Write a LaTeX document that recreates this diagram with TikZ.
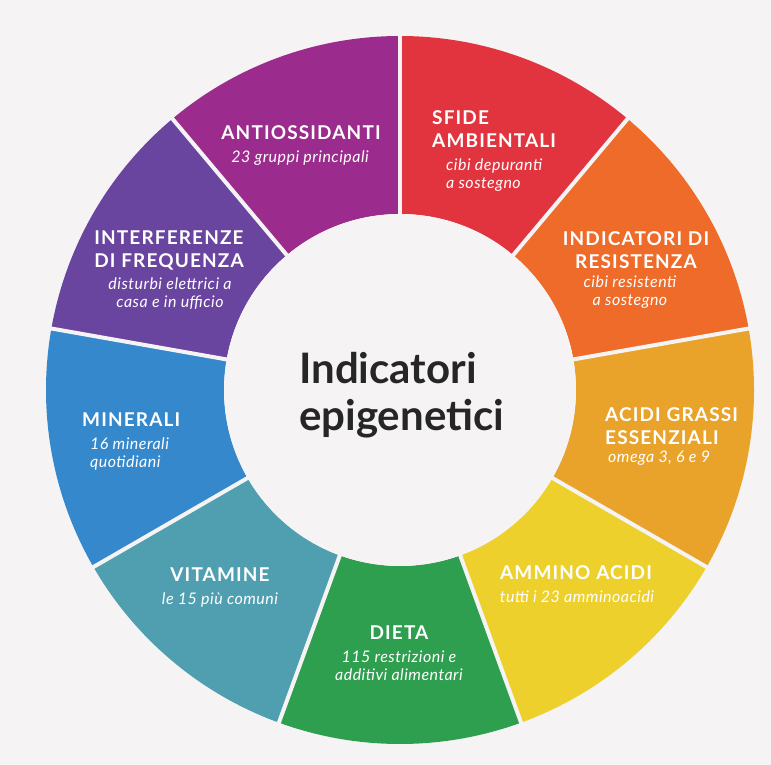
\documentclass[tikz,border=0pt]{standalone}
\usepackage{fontspec}
\setmainfont{Lato}
\newfontfamily\segfont[LetterSpace=6]{Lato}
\newfontfamily\subfont[LetterSpace=3]{Lato}
\usepackage{xcolor}
\definecolor{bgpaper}{HTML}{F5F3F3}
\definecolor{cAntiox}{HTML}{9B2B8C}
\definecolor{cSfide}{HTML}{E2343F}
\definecolor{cResist}{HTML}{EE6B2A}
\definecolor{cAcidi}{HTML}{E9A32A}
\definecolor{cAmmino}{HTML}{EED02C}
\definecolor{cDieta}{HTML}{2E9E4F}
\definecolor{cVitam}{HTML}{509FB1}
\definecolor{cMiner}{HTML}{3488CB}
\definecolor{cInterf}{HTML}{6A45A0}
\definecolor{cTitle}{HTML}{262626}

\tikzset{
  segtitle/.style={text=white, inner sep=0pt, font=\segfont\bfseries\fontsize{19}{23}\selectfont},
  segsub/.style={text=white, inner sep=0pt, font=\subfont\itshape\fontsize{16}{18}\selectfont},
  sepline/.style={bgpaper, line width=4pt}
}

\begin{document}
\begin{tikzpicture}[x=1pt,y=1pt]
    \fill[bgpaper] (0,0) rectangle (771,765);
    \useasboundingbox (0,0) rectangle (771,765);
    \begin{scope}[shift={(400,375)}]
        % sectors of the wheel
        \foreach \a/\c in {50/cSfide, 10/cResist, -30/cAcidi, -70/cAmmino, -110/cDieta,
                           -150/cVitam, -190/cMiner, 130/cInterf, 90/cAntiox}
            \fill[\c] (\a:176) -- (\a:354) arc[start angle=\a, end angle=\a+40, radius=354]
                -- ({\a+40}:176) arc[start angle=\a+40, end angle=\a, radius=176] -- cycle;
        \foreach \a in {90,50,...,-230}
            \draw[sepline] (\a:170) -- (\a:358);
        \fill[bgpaper] (0,0) circle (176);
    \end{scope}

    \node[anchor=west, align=left, text=cTitle, inner sep=0pt,
          font=\bfseries\fontsize{42}{47}\selectfont] (centre) at (299,370) {Indicatori\\epigenetici};

    \node[segtitle, align=center] (antiox) at (301,632) {ANTIOSSIDANTI};
    \node[segsub, align=center] (antiox-sub) at (300,607) {23 gruppi principali};

    \node[segtitle, align=left, anchor=west] (sfide) at (432,636) {SFIDE\\AMBIENTALI};
    \node[segsub, align=left, anchor=west] (sfide-sub) at (446,590) {cibi depuranti\\a sostegno};

    \node[segtitle, align=center] (resist) at (636,515) {INDICATORI DI\\RESISTENZA};
    \node[segsub, align=center] (resist-sub) at (630,473) {cibi resistenti\\a sostegno};

    \node[segtitle, align=left, anchor=west] (acidi) at (605,339) {ACIDI GRASSI\\ESSENZIALI};
    \node[segsub, anchor=west] (acidi-sub) at (608,307) {omega 3, 6 e 9};

    \node[segtitle, align=center] (ammino) at (576,192) {AMMINO ACIDI};
    \node[segsub, align=center] (ammino-sub) at (577,168) {tutti i 23 amminoacidi};

    \node[segtitle, align=center] (dieta) at (399,132) {DIETA};
    \node[segsub, align=center] (dieta-sub) at (399,99) {115 restrizioni e\\additivi alimentari};

    \node[segtitle, align=center] (vitam) at (220,190) {VITAMINE};
    \node[segsub, align=center] (vitam-sub) at (220,165) {le 15 più comuni};

    \node[segtitle, anchor=west] (miner) at (82,345) {MINERALI};
    \node[segsub, align=left, anchor=west] (miner-sub) at (90,311) {16 minerali\\quotidiani};

    \node[segtitle, align=center] (interf) at (169,515) {INTERFERENZE\\DI FREQUENZA};
    \node[segsub, align=center] (interf-sub) at (170,471) {disturbi elettrici a\\casa e in ufficio};
\end{tikzpicture}
\end{document}
